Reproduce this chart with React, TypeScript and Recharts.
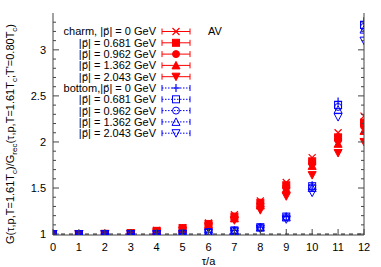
import React from "react";
import {
  ComposedChart,
  Scatter,
  XAxis,
  YAxis,
  ReferenceLine,
  Legend,
} from "recharts";

// tau/a values
const taus = [0, 1, 2, 3, 4, 5, 6, 7, 8, 9, 10, 11, 12];
const xTicks = [0, 1, 2, 3, 4, 5, 6, 7, 8, 9, 10, 11, 12];
const yTicks = [
  1, 1.1, 1.2, 1.3, 1.4, 1.5, 1.6, 1.7, 1.8, 1.9, 2, 2.1, 2.2, 2.3, 2.4, 2.5,
  2.6, 2.7, 2.8, 2.9, 3, 3.1, 3.2, 3.3,
];
const momenta = ["0", "0.681", "0.962", "1.362", "2.043"];

// charm, one array per momentum
const charmP0 = [1, 1, 1.003, 1.012, 1.04, 1.07, 1.12, 1.21, 1.36, 1.56, 1.83, 2.1, 2.28];
const charmP681 = [1, 1, 1.003, 1.011, 1.035, 1.065, 1.11, 1.19, 1.34, 1.53, 1.79, 2.05, 2.21];
const charmP962 = [1, 1, 1.003, 1.01, 1.033, 1.06, 1.105, 1.18, 1.33, 1.51, 1.77, 2.02, 2.17];
const charmP1362 = [1, 1, 1.002, 1.009, 1.03, 1.055, 1.1, 1.17, 1.31, 1.49, 1.74, 1.98, 2.12];
const charmP2043 = [1, 1, 1.001, 1.006, 1.02, 1.04, 1.085, 1.15, 1.26, 1.41, 1.64, 1.88, 2.0];

// bottom
const bottomP0 = [1, 1, 1, 1, 1.001, 1.004, 1.02, 1.04, 1.075, 1.19, 1.53, 2.44, 3.31];
const bottomP681 = [1, 1, 1, 1, 1.001, 1.004, 1.02, 1.04, 1.075, 1.19, 1.52, 2.4, 3.27];
const bottomP962 = [1, 1, 1, 1, 1.001, 1.003, 1.018, 1.038, 1.072, 1.185, 1.51, 2.38, 3.25];
const bottomP1362 = [1, 1, 1, 1, 1.001, 1.003, 1.016, 1.035, 1.07, 1.18, 1.5, 2.35, 3.22];
const bottomP2043 = [1, 1, 1, 1, 1, 1.002, 1.012, 1.03, 1.06, 1.16, 1.45, 2.27, 3.1];

const RED = "#ff0000";
const BLUE = "#0000ff";
const AXIS = "#444";
const FONT = "'Liberation Sans', Arial, sans-serif";

const series = [
  { key: "c0", flavour: "charm", p: momenta[0], values: charmP0, kind: "x", color: RED },
  { key: "c1", flavour: "charm", p: momenta[1], values: charmP681, kind: "sq", color: RED },
  { key: "c2", flavour: "charm", p: momenta[2], values: charmP962, kind: "circ", color: RED },
  { key: "c3", flavour: "charm", p: momenta[3], values: charmP1362, kind: "tri", color: RED },
  { key: "c4", flavour: "charm", p: momenta[4], values: charmP2043, kind: "tridn", color: RED },
  { key: "b0", flavour: "bottom", p: momenta[0], values: bottomP0, kind: "plus", color: BLUE },
  { key: "b1", flavour: "bottom", p: momenta[1], values: bottomP681, kind: "osq", color: BLUE },
  { key: "b2", flavour: "bottom", p: momenta[2], values: bottomP962, kind: "ocirc", color: BLUE },
  { key: "b3", flavour: "bottom", p: momenta[3], values: bottomP1362, kind: "otri", color: BLUE },
  { key: "b4", flavour: "bottom", p: momenta[4], values: bottomP2043, kind: "otridn", color: BLUE },
];

const Marker = ({ kind, cx, cy, color }: any) => {
  const s = 3.5;
  const t = 4;
  switch (kind) {
    case "x":
      return (
        <path
          d={`M${cx - s},${cy - s}L${cx + s},${cy + s}M${cx - s},${cy + s}L${cx + s},${cy - s}`}
          stroke={color}
          strokeWidth={1.2}
          fill="none"
        />
      );
    case "plus":
      return (
        <path
          d={`M${cx - t},${cy}L${cx + t},${cy}M${cx},${cy - t}L${cx},${cy + t}`}
          stroke={color}
          strokeWidth={1.2}
          fill="none"
        />
      );
    case "sq":
    case "osq":
      return (
        <rect
          x={cx - s}
          y={cy - s}
          width={2 * s}
          height={2 * s}
          fill={kind === "sq" ? color : "none"}
          stroke={color}
          strokeWidth={1}
        />
      );
    case "circ":
    case "ocirc":
      return (
        <circle cx={cx} cy={cy} r={s} fill={kind === "circ" ? color : "none"} stroke={color} strokeWidth={1} />
      );
    case "tri":
    case "otri":
      return (
        <path
          d={`M${cx},${cy - t}L${cx + t},${cy + s}L${cx - t},${cy + s}Z`}
          fill={kind === "tri" ? color : "none"}
          stroke={color}
          strokeWidth={1}
        />
      );
    default:
      return (
        <path
          d={`M${cx},${cy + t}L${cx + t},${cy - s}L${cx - t},${cy - s}Z`}
          fill={kind === "tridn" ? color : "none"}
          stroke={color}
          strokeWidth={1}
        />
      );
  }
};

const LegendBox = () => {
  const x0 = 162;
  const x1 = 190;
  return (
    <svg width={240} height={145} style={{ overflow: "visible" }}>
      {series.map((s, i) => {
        const y = 31.5 + i * 11.3;
        const dotted = s.flavour === "bottom";
        const prefix =
          s.p === "0" ? (s.flavour === "charm" ? "charm, " : "bottom,") : "";
        return (
          <g key={s.key}>
            <text x={156} y={y} dy="0.36em" textAnchor="end" fontSize={11} fontFamily={FONT} fill="#000">
              {`${prefix}|`}
              <tspan fontFamily="'DejaVu Sans'" fontSize={10}>{"p\u20D7"}</tspan>
              {`| = ${s.p} GeV`}
            </text>
            <line
              x1={x0}
              x2={x1}
              y1={y}
              y2={y}
              stroke={s.color}
              strokeWidth={1}
              strokeDasharray={dotted ? "1.5 1.5" : undefined}
            />
            <line x1={x0} x2={x0} y1={y - 3} y2={y + 3} stroke={s.color} />
            <line x1={x1} x2={x1} y1={y - 3} y2={y + 3} stroke={s.color} />
            <Marker kind={s.kind} cx={176} cy={y} color={s.color} />
          </g>
        );
      })}
      <text x={208} y={31.5} dy="0.36em" fontSize={11} fontFamily={FONT} fill="#000">
        AV
      </text>
    </svg>
  );
};

const isMajor = (v: number) => Math.abs(v * 2 - Math.round(v * 2)) < 1e-6;

const LeftTick = ({ x, y, payload }: any) => {
  const v = payload.value;
  const major = isMajor(v);
  return (
    <g>
      <line x1={x} x2={x + (major ? 6 : 3)} y1={y} y2={y} stroke={AXIS} />
      {major && (
        <text x={x - 7} y={y} dy="0.36em" textAnchor="end" fontSize={11} fontFamily={FONT} fill="#000">
          {String(Math.round(v * 10) / 10)}
        </text>
      )}
    </g>
  );
};

const RightTick = ({ x, y, payload }: any) => {
  const major = isMajor(payload.value);
  return <line x1={x} x2={x - (major ? 6 : 3)} y1={y} y2={y} stroke={AXIS} />;
};

const BottomTick = ({ x, y, payload }: any) => (
  <g>
    <line x1={x} x2={x} y1={y} y2={y - 6} stroke={AXIS} />
    <text x={x} y={y + 16} textAnchor="middle" fontSize={11} fontFamily={FONT} fill="#000">
      {payload.value}
    </text>
  </g>
);

const TopTick = ({ x, y }: any) => (
  <line x1={x} x2={x} y1={y} y2={y + 6} stroke={AXIS} />
);

const YLabel = () => (
  <text
    transform="translate(14,134) rotate(-90)"
    textAnchor="middle"
    fontSize={11}
    fontFamily={FONT}
    fill="#000"
  >
    G(τ,p,T=1.61T<tspan fontSize={8} dy={3}>c</tspan>
    <tspan dy={-3}>)/G</tspan>
    <tspan fontSize={8} dy={3}>rec</tspan>
    <tspan dy={-3}>(τ,p,T=1.61T</tspan>
    <tspan fontSize={8} dy={3}>c</tspan>
    <tspan dy={-3}>;T'=0.80T</tspan>
    <tspan fontSize={8} dy={3}>c</tspan>
    <tspan dy={-3}>)</tspan>
  </text>
);

const XLabel = ({ viewBox }: any) => (
  <text
    x={viewBox.x + viewBox.width / 2}
    y={265}
    textAnchor="middle"
    fontSize={11}
    fontFamily={FONT}
    fill="#000"
  >
    τ/a
  </text>
);

export default function App() {
  return (
    <div style={{ width: 381, height: 267 }}>
      <style>{`body{margin:0}`}</style>
      <ComposedChart
        width={381}
        height={267}
        margin={{ top: 13, right: 0, bottom: 0, left: 0 }}
      >
        <XAxis
          xAxisId="b"
          type="number"
          dataKey="x"
          domain={[0, 12]}
          ticks={xTicks}
          interval={0}
          height={32}
          tickSize={0}
          tickMargin={0}
          tickLine={false}
          tick={<BottomTick />}
          axisLine={{ stroke: AXIS }}
          label={{ content: XLabel }}
          allowDataOverflow
        />
        <XAxis
          xAxisId="t"
          orientation="top"
          type="number"
          domain={[0, 12]}
          ticks={xTicks}
          interval={0}
          height={0}
          tickSize={0}
          tickMargin={0}
          tickLine={false}
          tick={<TopTick />}
          axisLine={{ stroke: AXIS }}
          allowDataOverflow
        />
        <YAxis
          yAxisId="l"
          type="number"
          dataKey="y"
          domain={[0.99, 3.4]}
          ticks={yTicks}
          interval={0}
          width={53}
          tickSize={0}
          tickMargin={0}
          tickLine={false}
          tick={<LeftTick />}
          axisLine={{ stroke: AXIS }}
          label={{ content: YLabel }}
          allowDataOverflow
        />
        <YAxis
          yAxisId="r"
          orientation="right"
          type="number"
          domain={[0.99, 3.4]}
          ticks={yTicks}
          interval={0}
          width={17}
          tickSize={0}
          tickMargin={0}
          tickLine={false}
          tick={<RightTick />}
          axisLine={{ stroke: AXIS }}
          allowDataOverflow
        />
        <ReferenceLine
          xAxisId="b"
          yAxisId="l"
          y={1}
          stroke="#000"
          strokeDasharray="4 4"
        />
        {series.map((s) => (
          <Scatter
            key={s.key}
            name={`${s.flavour} ${s.p}`}
            xAxisId="b"
            yAxisId="l"
            data={taus.map((t, i) => ({ x: t, y: s.values[i] }))}
            fill={s.color}
            isAnimationActive={false}
            shape={(p: any) => (
              <Marker kind={s.kind} cx={p.cx} cy={p.cy} color={s.color} />
            )}
          />
        ))}
        <Legend
          layout="vertical"
          align="center"
          verticalAlign="middle"
          width={240}
          height={145}
          wrapperStyle={{ left: 0, top: 0 }}
          content={() => <LegendBox />}
        />
      </ComposedChart>
    </div>
  );
}
